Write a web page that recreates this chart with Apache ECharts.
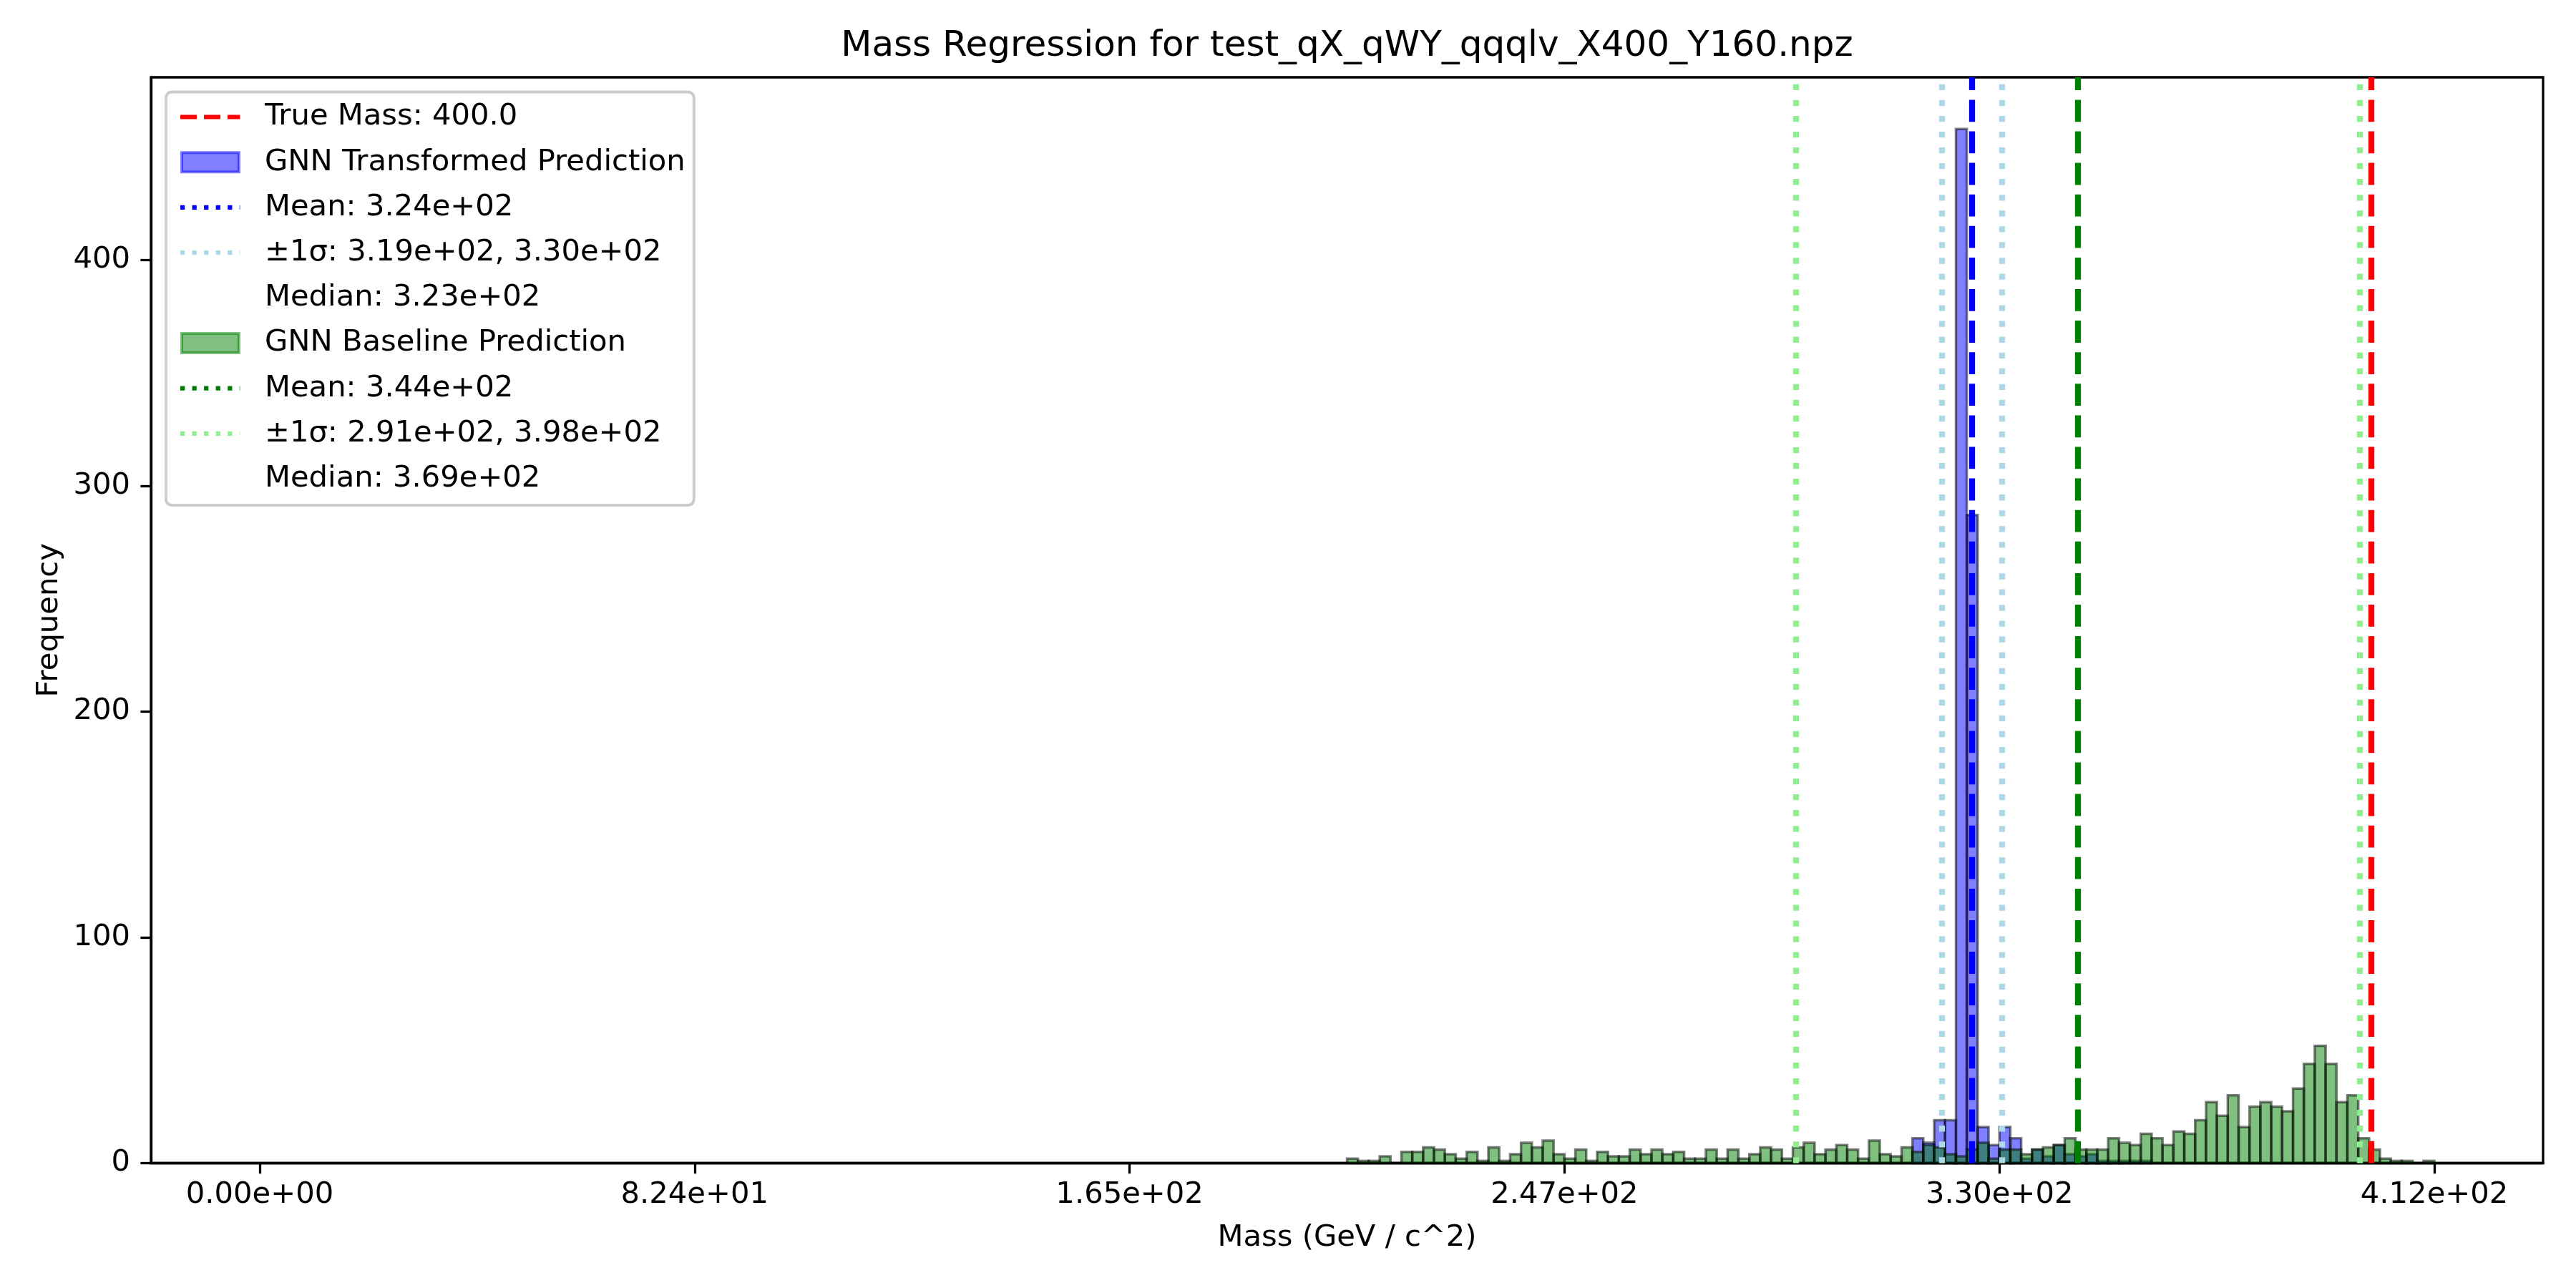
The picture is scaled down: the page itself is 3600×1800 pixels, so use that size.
<!DOCTYPE html>
<html>
<head>
<meta charset="utf-8">
<script src="https://cdn.jsdelivr.net/npm/echarts@6/dist/echarts.min.js"></script>
<style>
html,body{margin:0;padding:0;background:#fff;}
#chart{width:3600px;height:1800px;}
</style>
</head>
<body>
<div id="chart"></div>
<script>
// histogram bins: 200 equal bins between 0 and 412
const binLo = 0;
const binHi = 412;
const binCount = 200;

// GNN Transformed Prediction, counts from bin 152 on
const transformedFirstBin = 152;
const transformedCounts = [11, 9, 19, 19, 458, 287, 16, 8, 16, 11,
  2, 6, 3, 8, 4, 3, 4, 1, 1, 1, 1, 1];

// GNN Baseline Prediction, counts from bin 100 on
const baselineFirstBin = 100;
const baselineCounts = [2, 1, 1, 3, 0, 5, 5, 7, 6, 4,
  2, 5, 1, 7, 1, 4, 9, 7, 10, 4,
  2, 6, 1, 5, 3, 3, 6, 4, 6, 4,
  5, 2, 2, 6, 2, 6, 2, 4, 7, 6,
  2, 7, 9, 4, 6, 8, 6, 2, 10, 4,
  3, 7, 5, 8, 7, 4, 3, 6, 9, 2,
  6, 6, 4, 6, 7, 8, 11, 6, 6, 6,
  11, 9, 8, 13, 11, 8, 14, 13, 19, 27,
  21, 30, 16, 25, 27, 25, 23, 33, 44, 52,
  44, 27, 30, 11, 6, 2, 1, 1, 0, 1];

const trueMass = 400.0;
const transformedMean = 324.4;
const transformedSigma = [318.7, 330.1];
const baselineMean = 344.5;
const baselineSigma = [291.1, 397.8];

const xTickValues = [0, 82.4, 164.8, 247.2, 329.6, 412];
const xTickLabels = ['0.00e+00', '8.24e+01', '1.65e+02', '2.47e+02', '3.30e+02', '4.12e+02'];
const yTickValues = [0, 100, 200, 300, 400];

const legendNames = ['True Mass: 400.0', 'GNN Transformed Prediction', 'Mean: 3.24e+02',
  '±1σ: 3.19e+02, 3.30e+02', 'Median: 3.23e+02', 'GNN Baseline Prediction',
  'Mean: 3.44e+02', '±1σ: 2.91e+02, 3.98e+02', 'Median: 3.69e+02'];

const xMin = -20.6, xMax = 432.6, yMax = 480.9;
const FONT = 'DejaVu Sans';
const FS = 41.7;

function histRows(first, counts) {
  const w = (binHi - binLo) / binCount;
  return counts.map(function (c, i) {
    const k = first + i;
    return [binLo + k * w, binLo + (k + 1) * w, c];
  });
}

function histItem(fill) {
  return function (params, api) {
    const a = api.coord([api.value(0), api.value(2)]);
    const b = api.coord([api.value(1), 0]);
    return {
      type: 'rect',
      shape: {x: a[0], y: a[1], width: b[0] - a[0], height: b[1] - a[1]},
      style: {fill: fill, stroke: 'rgba(0,0,0,0.5)', lineWidth: 3.5}
    };
  };
}

const DASH = [30.8, 13.3];
const DOT = [8.3, 13.75];

function vlines(xs, color, dash) {
  return {
    silent: true,
    symbol: ['none', 'none'],
    label: {show: false},
    animation: false,
    lineStyle: {color: color, width: 8.3, type: dash, cap: 'butt'},
    emphasis: {disabled: true},
    data: xs.map(function (x) {
      return [{coord: [x, 0]}, {coord: [x, yMax]}];
    })
  };
}

function lineSeries(name, color, mark) {
  const s = {name: name, type: 'line', data: [], z: 5, color: color, silent: true};
  if (mark) s.markLine = mark;
  return s;
}

// legend handles, drawn in a 113 x 31 box, visible part 84 wide
const corners = 'M0,0h0 M113,31h0 ';
const dashedIcon = 'path://' + corners + 'M0,12.4h23v6.2h-23z M33,12.4h23v6.2h-23z M66,12.4h17.4v6.2h-17.4z';
let dots = '';
[0, 16.55, 33.1, 49.65, 66.2].forEach(function (x) { dots += 'M' + x + ',12.4h6.25v6.2h-6.25z '; });
dots += 'M82.75,12.4h0.65v6.2h-0.65z';
const dottedIcon = 'path://' + corners + dots;
const patchIcon = 'path://' + corners + 'M2,2h80v27h-80z';

const legendStyles = [
  {icon: dashedIcon, itemStyle: {color: '#ff0000', borderWidth: 0}},
  {icon: patchIcon, itemStyle: {color: 'rgba(0,0,255,0.5)', borderColor: 'rgba(0,0,255,0.5)', borderWidth: 4}},
  {icon: dottedIcon, itemStyle: {color: '#0000ff', borderWidth: 0}},
  {icon: dottedIcon, itemStyle: {color: '#add8e6', borderWidth: 0}},
  {icon: patchIcon, itemStyle: {color: 'rgba(0,0,0,0)', borderWidth: 0}},
  {icon: patchIcon, itemStyle: {color: 'rgba(0,128,0,0.5)', borderColor: 'rgba(0,128,0,0.5)', borderWidth: 4}},
  {icon: dottedIcon, itemStyle: {color: '#008000', borderWidth: 0}},
  {icon: dottedIcon, itemStyle: {color: '#90ee90', borderWidth: 0}},
  {icon: patchIcon, itemStyle: {color: 'rgba(0,0,0,0)', borderWidth: 0}}
];

const chart = echarts.init(document.getElementById('chart'), null, {renderer: 'canvas'});

const option = {
  animation: false,
  backgroundColor: '#ffffff',
  textStyle: {fontFamily: FONT},
  graphic: [{
    type: 'text',
    x: 1882.5,
    y: 65,
    style: {
      text: 'Mass Regression for test_qX_qWY_qqqlv_X400_Y160.npz',
      font: '50px "' + FONT + '"',
      fill: '#000',
      textAlign: 'center',
      textVerticalAlign: 'middle'
    }
  }],
  grid: {
    left: 211, right: 46, top: 108, bottom: 174.5,
    show: true, borderColor: '#000', borderWidth: 3.3, backgroundColor: 'transparent'
  },
  legend: {
    orient: 'vertical',
    left: 232,
    top: 128.5,
    align: 'left',
    selectedMode: false,
    itemWidth: 113,
    itemHeight: 31,
    itemGap: 21.2,
    padding: [14, 12, 16, 18],
    backgroundColor: 'rgba(255,255,255,0.8)',
    borderColor: '#cccccc',
    borderWidth: 4,
    borderRadius: 8,
    textStyle: {fontFamily: FONT, fontSize: FS, color: '#000'},
    data: legendNames.map(function (n, i) {
      return Object.assign({name: n}, legendStyles[i]);
    })
  },
  xAxis: {
    type: 'value',
    min: xMin,
    max: xMax,
    name: 'Mass (GeV / c^2)',
    nameLocation: 'middle',
    nameGap: 84,
    nameTextStyle: {fontFamily: FONT, fontSize: FS, color: '#000'},
    axisLine: {show: true, onZero: false, lineStyle: {color: '#000', width: 3.3}},
    axisTick: {show: true, inside: false, length: 14.6, lineStyle: {color: '#000', width: 3.3}, customValues: xTickValues},
    axisLabel: {
      margin: 24, fontFamily: FONT, fontSize: FS, color: '#000',
      customValues: xTickValues,
      formatter: function (v) {
        const i = xTickValues.indexOf(v);
        return i >= 0 ? xTickLabels[i] : '';
      }
    },
    splitLine: {show: false}
  },
  yAxis: {
    type: 'value',
    min: 0,
    max: yMax,
    name: 'Frequency',
    nameLocation: 'middle',
    nameGap: 121,
    nameTextStyle: {fontFamily: FONT, fontSize: FS, color: '#000'},
    axisLine: {show: true, onZero: false, lineStyle: {color: '#000', width: 3.3}},
    axisTick: {show: true, inside: false, length: 14.6, lineStyle: {color: '#000', width: 3.3}, customValues: yTickValues},
    axisLabel: {margin: 29, fontFamily: FONT, fontSize: FS, color: '#000', customValues: yTickValues},
    splitLine: {show: false}
  },
  series: [
    lineSeries(legendNames[0], '#ff0000', vlines([trueMass], '#ff0000', DASH)),
    {
      name: legendNames[1],
      type: 'custom',
      z: 2,
      silent: true,
      color: 'rgba(0,0,255,0.5)',
      renderItem: histItem('rgba(0,0,255,0.5)'),
      encode: {x: [0, 1], y: 2},
      data: histRows(transformedFirstBin, transformedCounts)
    },
    lineSeries(legendNames[2], '#0000ff', vlines([transformedMean], '#0000ff', DASH)),
    lineSeries(legendNames[3], '#add8e6', vlines(transformedSigma, '#add8e6', DOT)),
    lineSeries(legendNames[4], 'rgba(0,0,0,0)', null),
    {
      name: legendNames[5],
      type: 'custom',
      z: 3,
      silent: true,
      color: 'rgba(0,128,0,0.5)',
      renderItem: histItem('rgba(0,128,0,0.5)'),
      encode: {x: [0, 1], y: 2},
      data: histRows(baselineFirstBin, baselineCounts)
    },
    lineSeries(legendNames[6], '#008000', vlines([baselineMean], '#008000', DASH)),
    lineSeries(legendNames[7], '#90ee90', vlines(baselineSigma, '#90ee90', DOT)),
    lineSeries(legendNames[8], 'rgba(0,0,0,0)', null)
  ]
};

chart.setOption(option);
</script>
</body>
</html>
